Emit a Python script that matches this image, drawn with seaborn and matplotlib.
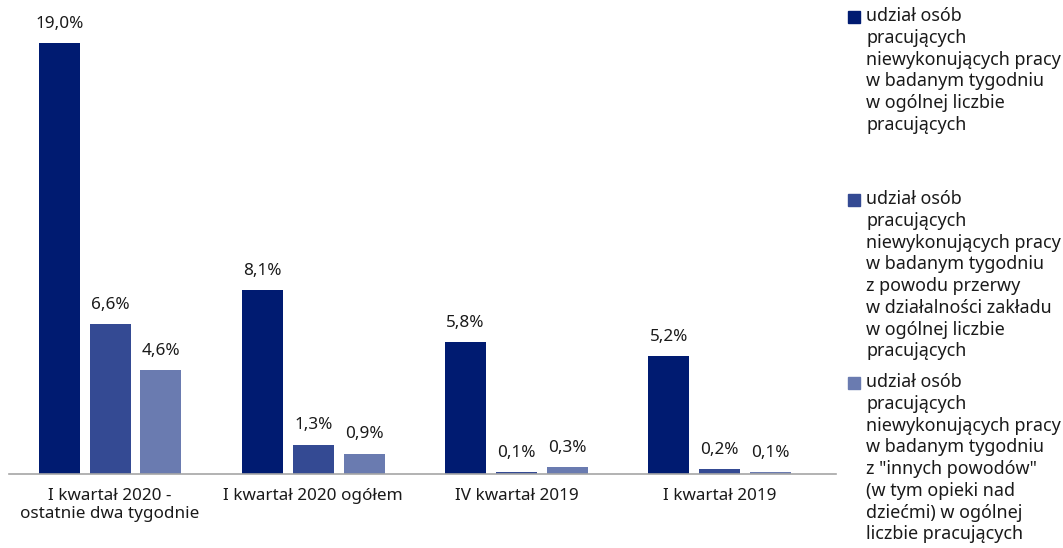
import pandas as pd
import numpy as np
import seaborn as sns
import matplotlib.pyplot as plt
from matplotlib.patches import Rectangle

# Dane
categories = ['I kwartał 2020 -\nostatnie dwa tygodnie', 'I kwartał 2020 ogółem',
              'IV kwartał 2019', 'I kwartał 2019']
share_total = [19.0, 8.1, 5.8, 5.2]
share_break = [6.6, 1.3, 0.1, 0.2]
share_other = [4.6, 0.9, 0.3, 0.1]

series_names = [
    'udział osób\npracujących\nniewykonujących pracy\nw badanym tygodniu\nw ogólnej liczbie\npracujących',
    'udział osób\npracujących\nniewykonujących pracy\nw badanym tygodniu\nz powodu przerwy\nw działalności zakładu\nw ogólnej liczbie\npracujących',
    'udział osób\npracujących\nniewykonujących pracy\nw badanym tygodniu\nz "innych powodów"\n(w tym opieki nad\ndziećmi) w ogólnej\nliczbie pracujących',
]
colors = ['#001b71', '#344a93', '#6a7bb0']

df = pd.DataFrame({
    'kategoria': categories * 3,
    'seria': np.repeat(series_names, len(categories)),
    'wartosc': share_total + share_break + share_other,
})

sns.set_theme(style='white')
plt.rcParams['font.family'] = ['Noto Sans', 'DejaVu Sans']

fig = plt.figure(figsize=(10.63, 5.48), dpi=100)
ax = fig.add_axes([8.5 / 1063, (548 - 474) / 548, 827 / 1063, 474 / 548])

sns.barplot(data=df, x='kategoria', y='wartosc', hue='seria', palette=colors,
            width=0.75, gap=0.19, ax=ax, legend=False, saturation=1, linewidth=0)

for cont in ax.containers:
    labels = [f'{v:.1f}'.replace('.', ',') + '%' for v in cont.datavalues]
    ax.bar_label(cont, labels=labels, padding=8, fontsize=12.3, color='#1a1a1a')

ax.set_ylim(0, 20.9)
ax.set_xlim(-0.5, 3.57)
ax.set_xlabel('')
ax.set_ylabel('')
ax.set_yticks([])
ax.tick_params(axis='x', length=0, pad=10, labelsize=12.3, labelcolor='#1a1a1a')
for s in ['top', 'right', 'left']:
    ax.spines[s].set_visible(False)
ax.spines['bottom'].set_color('#a6a6a6')
ax.spines['bottom'].set_linewidth(1.2)

# Legenda
starts = [7, 190, 373]
for name, col, y0 in zip(series_names, colors, starts):
    fig.patches.append(Rectangle((848 / 1063, 1 - (y0 + 16) / 548), 12 / 1063, 12 / 548,
                                 transform=fig.transFigure, color=col))
    fig.text(866 / 1063, 1 - y0 / 548, name, fontsize=12.9, va='top', ha='left',
             linespacing=1.27, color='#1a1a1a')

fig.savefig('out.png', dpi=100)
